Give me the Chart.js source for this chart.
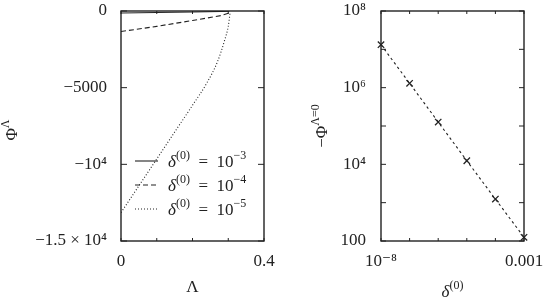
<!DOCTYPE html>
<html>
<head>
<meta charset="utf-8">
<script src="https://cdn.jsdelivr.net/npm/chart.js@4.4.1/dist/chart.umd.min.js"></script>
<style>
body { margin: 0; background: #fff; }
canvas { position: absolute; top: 0; }
#left { left: 0; }
#right { left: 280px; }
</style>
</head>
<body>
<canvas id="left" width="280" height="300"></canvas>
<canvas id="right" width="265" height="300"></canvas>
<script>
// left panel: Phi^Lambda against Lambda, one curve per delta^(0)
const lam3 = [0, 0.1, 0.2, 0.28, 0.303];
const phi3 = [-133, -100, -62, -30, -12];
const lam4 = [0, 0.1, 0.2, 0.28, 0.303];
const phi4 = [-1340, -1000, -620, -300, -120];
const lam5 = [0, 0.04, 0.08, 0.12, 0.16, 0.2, 0.24, 0.27, 0.29, 0.3, 0.305];
const phi5 = [-13150, -11750, -10350, -8950, -7550, -6150, -4700, -3300, -1900, -1000, -150];
const legendExp = ['−3', '−4', '−5'];

// right panel: -Phi^{Lambda=0} against delta^(0)
const deltas = [1e-8, 1e-7, 1e-6, 1e-5, 1e-4, 1e-3];
const phi0 = [1.32e7, 1.30e6, 1.27e5, 1.24e4, 1.24e3, 125];

// ticks
const lamTicks = [0, 0.1, 0.2, 0.3, 0.4];
const lamLabels = ['0', '', '', '', '0.4'];
const phiTicks = [-15000, -10000, -5000, 0];
const phiLabels = ['−1.5 × 10⁴', '−10⁴', '−5000', '0'];
const deltaTicks = [1e-8, 1e-7, 1e-6, 1e-5, 1e-4, 1e-3];
const deltaLabels = ['10⁻⁸', '', '', '', '', '0.001'];
const phi0Ticks = [100, 1e3, 1e4, 1e5, 1e6, 1e7, 1e8];
const phi0Labels = ['100', '', '10⁴', '', '10⁶', '', '10⁸'];

const FAM = "'Liberation Serif', 'DejaVu Serif', serif";
const INK = '#222';
Chart.defaults.font.family = FAM;
Chart.defaults.font.size = 17;
Chart.defaults.color = INK;

// tick gap goes through tickLength (not ticks.padding) so the layout keeps top at 11px
function axis(type, min, max, vals, labels, gap, fit, isX) {
    return {
        type, min, max,
        grid: { display: false, drawTicks: true, tickLength: gap },
        border: { display: false },
        ticks: {
            autoSkip: false, maxRotation: 0, minRotation: 0, padding: 0,
            callback: (v, i) => labels[i]
        },
        afterBuildTicks: s => { s.ticks = vals.map(v => ({ value: v })); },
        afterFit: s => { if (isX) s.height = fit; else s.width = fit; }
    };
}

function pts(xs, ys) {
    return xs.map((x, i) => ({ x, y: ys[i] }));
}

// centred text with superscripts; parts = [text, font, dy]
function richText(ctx, parts, x, y, rotate) {
    ctx.save();
    ctx.translate(x, y);
    if (rotate) ctx.rotate(-Math.PI / 2);
    ctx.fillStyle = INK;
    ctx.textBaseline = 'alphabetic';
    let w = 0;
    parts.forEach(p => { ctx.font = p[1]; w += ctx.measureText(p[0]).width; });
    let cx = -w / 2;
    parts.forEach(p => {
        ctx.font = p[1];
        ctx.fillText(p[0], cx, p[2]);
        cx += ctx.measureText(p[0]).width;
    });
    ctx.restore();
}

const F = '17px ' + FAM;
const FI = 'italic 17px ' + FAM;
const FS = '12px ' + FAM;

// frame with inward ticks on all four sides
function framePlugin(xLen, yLen) {
    return {
        id: 'frame',
        beforeDatasetsDraw(chart) {
            const { ctx, chartArea: a, scales } = chart;
            ctx.save();
            ctx.strokeStyle = INK;
            ctx.lineWidth = 1;
            ctx.beginPath();
            scales.x.ticks.forEach(t => {
                const px = scales.x.getPixelForValue(t.value);
                ctx.moveTo(px, a.bottom); ctx.lineTo(px, a.bottom - xLen);
                ctx.moveTo(px, a.top); ctx.lineTo(px, a.top + xLen);
            });
            scales.y.ticks.forEach(t => {
                const py = scales.y.getPixelForValue(t.value);
                ctx.moveTo(a.left, py); ctx.lineTo(a.left + yLen, py);
                ctx.moveTo(a.right, py); ctx.lineTo(a.right - yLen, py);
            });
            ctx.stroke();
            ctx.lineWidth = 1.4;
            ctx.strokeRect(a.left, a.top, a.right - a.left, a.bottom - a.top);
            ctx.restore();
        }
    };
}

const leftDecor = {
    id: 'leftDecor',
    afterDraw(chart) {
        const ctx = chart.ctx;
        const a = chart.chartArea;
        richText(ctx, [['Λ', F, 0]], (a.left + a.right) / 2, 292);
        richText(ctx, [['Φ', F, 0], ['Λ', FS, -8]], 17, 130, true);
        // legend inside the plot
        const dashes = [[], [5, 3], [1, 2]];
        legendExp.forEach((e, i) => {
            const y = 161 + i * 24;
            ctx.save();
            ctx.strokeStyle = INK;
            ctx.lineWidth = 1.1;
            ctx.setLineDash(dashes[i]);
            ctx.beginPath();
            ctx.moveTo(135, y); ctx.lineTo(158, y);
            ctx.stroke();
            ctx.restore();
            const parts = [['δ', FI, 0], ['(0)', FS, -8], ['  =  10', F, 0], [e, FS, -8]];
            ctx.save();
            ctx.fillStyle = INK;
            let x = 168;
            parts.forEach(p => {
                ctx.font = p[1];
                ctx.fillText(p[0], x, y + 5.5 + p[2]);
                x += ctx.measureText(p[0]).width;
            });
            ctx.restore();
        });
    }
};

const rightDecor = {
    id: 'rightDecor',
    afterDraw(chart) {
        const ctx = chart.ctx;
        const a = chart.chartArea;
        richText(ctx, [['δ', FI, 0], ['(0)', FS, -8]], (a.left + a.right) / 2, 297);
        richText(ctx, [['−Φ', F, 0], ['Λ=0', FS, -8]], 47, 126, true);
    }
};

const lineBase = { showLine: true, pointRadius: 0, borderColor: INK, borderWidth: 1.1, fill: false };

new Chart(document.getElementById('left'), {
    type: 'scatter',
    data: {
        datasets: [
            Object.assign({ data: pts(lam3, phi3) }, lineBase),
            Object.assign({ data: pts(lam4, phi4), borderDash: [5, 3] }, lineBase),
            Object.assign({ data: pts(lam5, phi5), borderDash: [1, 2], cubicInterpolationMode: 'monotone' }, lineBase)
        ]
    },
    options: {
        responsive: false,
        animation: false,
        layout: { padding: { top: 11, right: 16, left: 0, bottom: 0 } },
        plugins: { legend: { display: false }, tooltip: { enabled: false } },
        scales: {
            x: axis('linear', 0, 0.4, lamTicks, lamLabels, 10, 59, true),
            y: axis('linear', -15000, 0, phiTicks, phiLabels, 14, 121, false)
        }
    },
    plugins: [framePlugin(3, 6), leftDecor]
});

new Chart(document.getElementById('right'), {
    type: 'scatter',
    data: {
        datasets: [{
            data: pts(deltas, phi0),
            showLine: true,
            borderColor: INK,
            borderWidth: 1.1,
            borderDash: [2.5, 3],
            pointStyle: 'crossRot',
            pointRadius: 4.5,
            pointBorderWidth: 1.3,
            pointBorderColor: INK,
            clip: false
        }]
    },
    options: {
        responsive: false,
        animation: false,
        layout: { padding: { top: 11, right: 21, left: 0, bottom: 0 } },
        plugins: { legend: { display: false }, tooltip: { enabled: false } },
        scales: {
            x: axis('logarithmic', 1e-8, 1e-3, deltaTicks, deltaLabels, 10, 59, true),
            y: axis('logarithmic', 100, 1e8, phi0Ticks, phi0Labels, 15, 101, false)
        }
    },
    plugins: [framePlugin(3, 5), rightDecor]
});
</script>
</body>
</html>
